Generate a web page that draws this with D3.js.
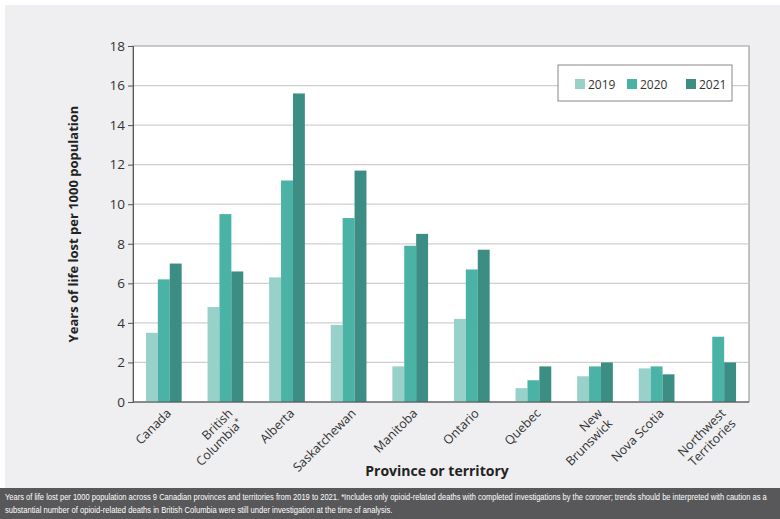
<!DOCTYPE html>
<html><head><meta charset="utf-8">
<script src="https://cdn.jsdelivr.net/npm/d3@7"></script>
<style>body{margin:0;background:#fff;}svg{display:block;}</style>
</head><body>
<svg id="c" width="780" height="519"></svg>
<script>
const categories = ["Canada","British Columbia*","Alberta","Saskatchewan","Manitoba","Ontario","Quebec","New Brunswick","Nova Scotia","Northwest Territories"];
const categoryLines = [["Canada"],["British","Columbia*"],["Alberta"],["Saskatchewan"],["Manitoba"],["Ontario"],["Quebec"],["New","Brunswick"],["Nova Scotia"],["Northwest","Territories"]];
const years = ["2019","2020","2021"];
const values2019 = [3.5, 4.8, 6.3, 3.9, 1.8, 4.2, 0.7, 1.3, 1.7, null];
const values2020 = [6.2, 9.5, 11.2, 9.3, 7.9, 6.7, 1.1, 1.8, 1.8, 3.3];
const values2021 = [7.0, 6.6, 15.6, 11.7, 8.5, 7.7, 1.8, 2.0, 1.4, 2.0];
const yTicks = [0,2,4,6,8,10,12,14,16,18];
const colors = ["#97d1c9","#4bb2a6","#3c8d84"];
const series = [values2019, values2020, values2021];
const captionLines = [
  "Years of life lost per 1000 population across 9 Canadian provinces and territories from 2019 to 2021. *Includes only opioid-related deaths with completed investigations by the coroner; trends should be interpreted with caution as a",
  "substantial number of opioid-related deaths in British Columbia were still under investigation at the time of analysis."
];

const svg = d3.select("#c");
svg.append("rect").attr("x",5).attr("y",5).attr("width",775).attr("height",483).attr("fill","#efeff1");

const L=133, R=749, T=46, B=402;
svg.append("rect").attr("x",L).attr("y",T).attr("width",R-L).attr("height",B-T).attr("fill","#fff").attr("stroke","#8a8a8a").attr("stroke-width",1);

const x0 = d3.scaleBand().domain(categories).range([L,R]).paddingInner(0.42).paddingOuter(0.21);
const x1 = d3.scaleBand().domain(years).range([0,x0.bandwidth()]);
const y = d3.scaleLinear().domain([0,18]).range([B,T]);

// gridlines
svg.append("g").selectAll("line").data(yTicks.filter(d=>d>0)).join("line")
  .attr("x1",L).attr("x2",R).attr("y1",d=>y(d)).attr("y2",d=>y(d))
  .attr("stroke","#cfcfcf").attr("stroke-width",1.2);

// bars
const g = svg.append("g");
categories.forEach((c,i)=>{
  series.forEach((s,k)=>{
    if(s[i]==null) return;
    g.append("rect").attr("x",x0(c)+x1(years[k])).attr("width",x1.bandwidth())
      .attr("y",y(s[i])).attr("height",y(0)-y(s[i])).attr("fill",colors[k]);
  });
});

// y axis
const yAxis = svg.append("g").attr("transform",`translate(${L},0)`)
  .call(d3.axisLeft(y).tickValues(yTicks).tickSize(5).tickPadding(3));
yAxis.select(".domain").attr("stroke","#555");
yAxis.selectAll(".tick line").attr("stroke","#555");
yAxis.selectAll("text").attr("font-family","Open Sans, sans-serif").attr("font-size",13.5).attr("fill","#333");

// x axis baseline
svg.append("line").attr("x1",L).attr("x2",R).attr("y1",B).attr("y2",B).attr("stroke","#555").attr("stroke-width",1.2);

// x labels
const xl = svg.append("g");
categories.forEach((c,i)=>{
  const cx = x0(c)+x0.bandwidth()/2;
  const t = xl.append("text").attr("transform",`translate(${cx+5},${B+9}) rotate(-45)`)
    .attr("text-anchor","end").attr("font-family","Open Sans, sans-serif").attr("font-size",12.5).attr("fill","#333");
  categoryLines[i].forEach((ln,j)=>{
    const ts = t.append("tspan").attr("x",0).attr("dy", j===0?"0.35em":"1.15em");
    if(ln.endsWith("*")){
      ts.text(ln.slice(0,-1));
      ts.append("tspan").attr("font-size",8).attr("dy","-0.5em").text("*");
    } else ts.text(ln);
  });
});

// axis titles
svg.append("text").attr("transform",`translate(78,${(T+B)/2}) rotate(-90)`).attr("text-anchor","middle")
  .attr("font-family","Open Sans, sans-serif").attr("font-weight","bold").attr("font-size",13).attr("fill","#222")
  .text("Years of life lost per 1000 population");
svg.append("text").attr("x",(L+R)/2-4).attr("y",476).attr("text-anchor","middle")
  .attr("font-family","Open Sans, sans-serif").attr("font-weight","bold").attr("font-size",14).attr("fill","#222")
  .text("Province or territory");

// legend
const lg = svg.append("g");
lg.append("rect").attr("x",558).attr("y",65).attr("width",174).attr("height",36).attr("fill","#fff").attr("stroke","#888");
const lx = [575,627,686];
years.forEach((yr,k)=>{
  lg.append("rect").attr("x",lx[k]).attr("y",79).attr("width",10).attr("height",10).attr("fill",colors[k]);
  lg.append("text").attr("x",lx[k]+13).attr("y",88.5).attr("font-family","Open Sans, sans-serif").attr("font-size",12).attr("fill","#333").text(yr);
});

// caption
svg.append("rect").attr("x",0).attr("y",488).attr("width",780).attr("height",31).attr("fill","#58585a");
const capFont = "'Liberation Sans Narrow', 'Arial Narrow', 'Liberation Sans', sans-serif";
const capWidths = [764, 388];
const capY = [500, 513];
captionLines.forEach((ln,i)=>{
  const t = svg.append("text").attr("x",0).attr("y",0).attr("font-family",capFont).attr("font-size",8.5).attr("fill","#fff").text(ln);
  const w = t.node().getComputedTextLength();
  const s = capWidths[i]/w;
  t.attr("transform",`translate(5,${capY[i]}) scale(${s},1)`);
});
</script>
</body></html>
